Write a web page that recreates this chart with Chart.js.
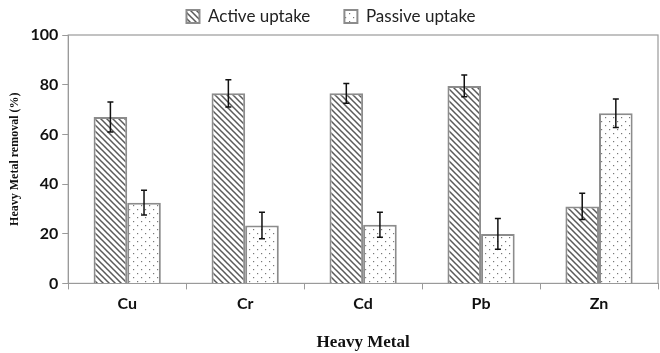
<!DOCTYPE html>
<html>
<head>
<meta charset="utf-8">
<script src="https://cdn.jsdelivr.net/npm/chart.js@4"></script>
<style>
  html, body { margin: 0; padding: 0; background: #fff; }
  #wrap { width: 660px; height: 353px; }
</style>
</head>
<body>
<div id="wrap"><canvas id="metals"></canvas></div>
<script>
var metals = ["Cu", "Cr", "Cd", "Pb", "Zn"];
var activeUptake = [67, 76.5, 76.5, 79.5, 31];
var activeErr = [6, 5.5, 4, 4.4, 5.3];
var passiveUptake = [32.5, 23.3, 23.6, 19.9, 68.5];
var passiveErr = [5, 5.3, 5, 6.2, 5.7];
var yTicks = [0, 20, 40, 60, 80, 100];

// hatch "\\\" pattern
function hatch() {
  var c = document.createElement("canvas");
  c.width = 6; c.height = 6;
  var g = c.getContext("2d");
  g.fillStyle = "#fff";
  g.fillRect(0, 0, 6, 6);
  g.strokeStyle = "#5a5a5a";
  g.lineWidth = 1.5;
  g.beginPath();
  g.moveTo(-1, -1); g.lineTo(7, 7);
  g.moveTo(-4, 2); g.lineTo(4, 10);
  g.moveTo(2, -4); g.lineTo(10, 4);
  g.stroke();
  return g.createPattern(c, "repeat");
}

// sparse dots
function dots() {
  var c = document.createElement("canvas");
  c.width = 8; c.height = 8;
  var g = c.getContext("2d");
  g.fillStyle = "#fff";
  g.fillRect(0, 0, 8, 8);
  g.fillStyle = "#777";
  g.fillRect(1, 1, 1.2, 1.2);
  g.fillRect(5, 5, 1.2, 1.2);
  return g.createPattern(c, "repeat");
}

var errorBars = {
  id: "errorBars",
  afterDatasetsDraw: function (chart) {
    var ctx = chart.ctx;
    var y = chart.scales.y;
    var errs = [activeErr, passiveErr];
    ctx.save();
    ctx.strokeStyle = "#111";
    ctx.lineWidth = 1.5;
    chart.data.datasets.forEach(function (ds, i) {
      chart.getDatasetMeta(i).data.forEach(function (bar, j) {
        var v = ds.data[j];
        var top = y.getPixelForValue(v + errs[i][j]);
        var bot = y.getPixelForValue(v - errs[i][j]);
        ctx.beginPath();
        ctx.moveTo(bar.x, top); ctx.lineTo(bar.x, bot);
        ctx.moveTo(bar.x - 3, top); ctx.lineTo(bar.x + 3, top);
        ctx.moveTo(bar.x - 3, bot); ctx.lineTo(bar.x + 3, bot);
        ctx.stroke();
      });
    });
    ctx.restore();
  }
};

var frame = {
  id: "frame",
  beforeDatasetsDraw: function (chart) {
    var a = chart.chartArea;
    var ctx = chart.ctx;
    ctx.save();
    ctx.strokeStyle = "#9a9a9a";
    ctx.lineWidth = 1.2;
    ctx.strokeRect(a.left, a.top, a.right - a.left, a.bottom - a.top);
    ctx.restore();
  }
};

var ctx = document.getElementById("metals");

new Chart(ctx, {
  type: "bar",
  data: {
    labels: metals,
    datasets: [
      {
        label: "Active uptake",
        data: activeUptake,
        backgroundColor: hatch(),
        borderColor: "#8c8c8c",
        borderWidth: 2,
        barPercentage: 1,
        categoryPercentage: 0.57
      },
      {
        label: "Passive uptake",
        data: passiveUptake,
        backgroundColor: dots(),
        borderColor: "#8c8c8c",
        borderWidth: 2,
        barPercentage: 1,
        categoryPercentage: 0.57
      }
    ]
  },
  options: {
    responsive: true,
    maintainAspectRatio: false,
    animation: false,
    layout: { padding: { left: 4, right: 2, top: 0, bottom: 0 } },
    plugins: {
      legend: {
        position: "top",
        labels: {
          boxWidth: 13,
          boxHeight: 13,
          color: "#222",
          font: { family: "Lato", size: 17 },
          padding: 8,
          generateLabels: function (chart) {
            var items = Chart.defaults.plugins.legend.labels.generateLabels(chart);
            items[0].text = items[0].text + "      ";
            return items;
          }
        }
      },
      tooltip: { enabled: false }
    },
    scales: {
      x: {
        grid: {
          offset: true,
          drawOnChartArea: false,
          tickLength: 6,
          color: "#9a9a9a"
        },
        border: { color: "#9a9a9a" },
        ticks: {
          color: "#111",
          font: { family: "Lato", size: 16, weight: "bold" },
          padding: 5
        },
        title: {
          display: true,
          text: "Heavy Metal",
          color: "#111",
          font: { family: "Liberation Serif", size: 17, weight: "bold" },
          padding: { top: 14, bottom: 0 }
        }
      },
      y: {
        min: 0,
        max: 100,
        afterBuildTicks: function (axis) {
          axis.ticks = yTicks.map(function (v) { return { value: v }; });
        },
        grid: {
          drawOnChartArea: false,
          tickLength: 6,
          color: "#9a9a9a"
        },
        border: { color: "#9a9a9a" },
        ticks: {
          color: "#111",
          font: { family: "Lato", size: 16, weight: "bold" },
          padding: 4
        },
        title: {
          display: true,
          text: "Heavy Metal removal (%)",
          color: "#111",
          font: { family: "Liberation Serif", size: 12, weight: "bold" },
          padding: { bottom: 4 }
        }
      }
    }
  },
  plugins: [frame, errorBars]
});
</script>
</body>
</html>
